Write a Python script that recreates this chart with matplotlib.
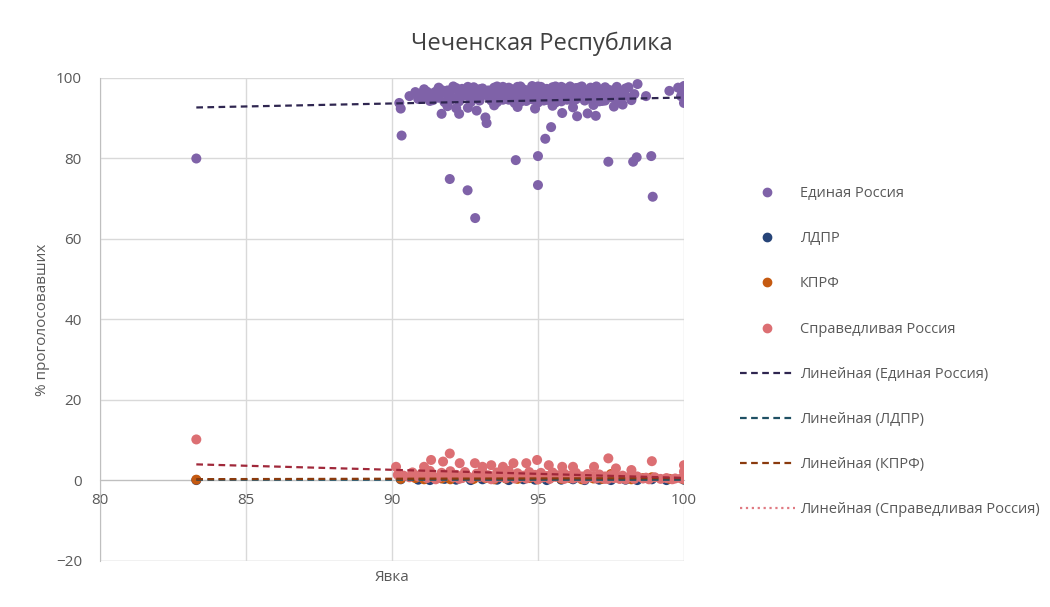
import numpy as np
import matplotlib.pyplot as plt
from matplotlib.lines import Line2D

plt.rcParams['font.family'] = ['Open Sans', 'DejaVu Sans']

title = 'Чеченская Республика'
party_names = ['Единая Россия', 'ЛДПР', 'КПРФ', 'Справедливая Россия']

# Единая Россия: явка / % голосов
er_x = [90.25, 90.3, 90.33, 90.6, 90.8, 90.9, 91.0, 91.0, 91.1, 91.2,
        91.3, 91.3, 91.4, 91.5, 91.5, 91.6, 91.7, 91.7, 91.8, 91.9,
        92.0, 92.0, 92.1, 92.2, 92.3, 92.3, 92.4, 92.5, 92.5, 92.6,
        92.7, 92.8, 92.9, 92.9, 93.0, 93.0, 93.1, 93.2, 93.24, 93.3,
        93.4, 93.4, 93.5, 93.6, 93.6, 93.7, 93.8, 93.8, 93.9, 94.0,
        94.0, 94.1, 94.2, 94.2, 94.3, 94.4, 94.4, 94.5, 94.6, 94.6,
        94.7, 94.8, 94.8, 94.9, 95.0, 95.0, 95.1, 95.2, 95.2, 95.3,
        95.4, 95.4, 95.5, 95.6, 95.6, 95.7, 95.8, 95.8, 95.83, 95.9,
        96.0, 96.0, 96.1, 96.2, 96.2, 96.3, 96.34, 96.4, 96.5, 96.6,
        96.7, 96.7, 96.8, 96.9, 96.98, 97.0, 97.1, 97.2, 97.3, 97.4,
        97.5, 97.6, 97.7, 97.8, 97.9, 98.0, 98.1, 98.2, 98.41, 98.7,
        99.5, 99.8, 99.9, 99.9, 100.0, 100.0, 100.0, 100.0, 100.0, 100.0,
        91.1, 91.4, 91.6, 91.9, 92.1, 92.3, 92.4, 92.6, 92.8, 93.0,
        93.1, 93.3, 93.5, 93.6, 93.7, 93.9, 94.0, 94.1, 94.2, 94.3,
        94.4, 94.5, 94.6, 94.7, 94.8, 94.9, 95.0, 95.1, 95.1, 95.2,
        95.3, 95.4, 95.5, 95.5, 95.6, 95.7, 95.8, 95.9, 96.0, 96.1,
        96.1, 96.2, 96.3, 96.4, 96.5, 96.6, 96.7, 96.8, 96.9, 97.0,
        97.1, 97.2, 97.3, 97.4, 97.5, 97.7, 97.8, 97.9, 98.0, 98.3,
        92.0, 92.7, 93.4, 94.5, 95.0, 95.6, 96.0, 96.6, 97.2, 93.8,
        91.9, 92.6, 93.5, 94.3, 94.9, 95.5, 96.2, 96.9, 97.6, 92.2,
        83.3, 91.98, 92.59, 92.85, 94.24, 95.0, 95.0, 95.25, 95.45, 97.41,
        98.26, 98.38, 98.88, 98.93]
er_y = [93.8, 92.4, 85.7, 95.5, 96.5, 94.8, 96.0, 95.2, 95.3, 96.6,
        95.8, 94.3, 94.5, 96.6, 95.2, 95.1, 91.1, 97.0, 94.0, 95.8,
        94.5, 96.8, 95.0, 97.5, 91.1, 94.2, 96.2, 95.8, 95.6, 97.8,
        94.0, 96.5, 91.9, 95.2, 97.2, 94.4, 95.8, 90.2, 88.8, 96.9,
        94.4, 95.0, 97.6, 95.5, 94.0, 96.4, 94.6, 97.8, 95.6, 95.9,
        94.6, 97.2, 95.0, 93.8, 96.6, 94.1, 97.9, 95.7, 94.3, 96.9,
        94.8, 97.5, 94.7, 96.2, 93.9, 97.9, 95.4, 94.4, 97.0, 94.6,
        96.6, 94.5, 97.7, 95.1, 93.9, 96.3, 97.8, 94.2, 91.3, 95.6,
        97.3, 94.8, 95.0, 96.8, 94.6, 94.7, 90.5, 97.6, 95.8, 94.4,
        96.9, 91.2, 94.8, 97.4, 90.6, 95.5, 94.2, 96.5, 94.4, 97.1,
        95.2, 96.9, 94.0, 96.2, 93.4, 95.6, 97.7, 94.5, 98.5, 95.5,
        96.8, 97.6, 95.5, 97.2, 97.9, 95.0, 93.8, 96.9, 97.4, 98.0,
        97.2, 96.2, 97.6, 96.9, 97.9, 96.4, 97.3, 95.9, 97.7, 96.0,
        97.4, 95.4, 96.3, 97.9, 95.2, 96.8, 97.6, 95.8, 96.9, 97.8,
        96.0, 97.2, 95.3, 96.5, 98.0, 95.6, 96.7, 97.8, 96.1, 95.2,
        97.3, 96.0, 95.0, 96.8, 97.9, 95.4, 96.5, 97.4, 95.9, 97.9,
        96.6, 95.3, 97.5, 96.1, 97.9, 96.8, 95.4, 97.6, 96.0, 97.9,
        96.4, 95.0, 97.7, 95.9, 96.9, 97.8, 95.1, 96.6, 97.4, 96.0,
        95.3, 95.0, 96.9, 94.8, 95.5, 94.3, 94.6, 94.9, 94.3, 95.7,
        93.0, 92.6, 93.2, 92.8, 92.4, 93.1, 92.7, 93.3, 92.9, 92.5,
        80.0, 74.9, 72.1, 65.2, 79.6, 80.6, 73.4, 84.9, 87.8, 79.2,
        79.2, 80.3, 80.6, 70.5]

# ЛДПР
ldpr_x = [83.3, 90.3, 90.9, 91.3, 91.8, 92.2, 92.7, 93.1, 93.6, 94.0,
          94.5, 94.9, 95.3, 95.8, 96.2, 96.6, 97.1, 97.5, 98.0, 98.4,
          98.9, 99.4, 100.0]
ldpr_y = [0.1, 0.3, 0.2, 0.1, 0.4, 0.2, 0.1, 0.3, 0.2, 0.1,
          0.3, 0.2, 0.1, 0.2, 0.3, 0.1, 0.2, 0.1, 0.2, 0.1,
          0.3, 0.1, 0.2]

# КПРФ
kprf_x = [83.3, 90.3, 90.8, 91.1, 91.4, 91.7, 92.0, 92.4, 92.8, 93.2,
          93.5, 93.9, 94.3, 94.7, 95.0, 95.4, 95.8, 96.1, 96.5, 96.9,
          97.2, 97.5, 97.8, 98.2, 98.6, 98.9, 99.5, 100.0, 100.0]
kprf_y = [0.2, 0.4, 0.6, 0.3, 0.8, 0.5, 0.3, 0.7, 0.4, 0.6,
          0.3, 0.5, 0.4, 0.6, 0.3, 0.5, 0.4, 0.6, 0.3, 0.5,
          0.4, 1.6, 0.5, 0.3, 0.6, 0.8, 0.4, 0.3, 0.6]

# Справедливая Россия
sr_x = [83.3, 90.14, 90.2, 91.1, 91.34, 91.75, 91.98, 92.32, 92.84, 93.1,
        93.4, 93.8, 94.16, 94.6, 94.97, 95.37, 95.83, 96.2, 96.92, 97.41,
        97.67, 98.2, 98.9, 99.7, 100.0, 100.0,
        90.4, 90.6, 90.7, 90.9, 91.0, 91.2, 91.3, 91.4, 91.6, 91.7,
        91.8, 92.0, 92.1, 92.2, 92.4, 92.5, 92.6, 92.7, 92.9, 93.0,
        93.1, 93.2, 93.3, 93.5, 93.6, 93.7, 93.8, 93.9, 94.0, 94.1,
        94.2, 94.3, 94.4, 94.5, 94.6, 94.7, 94.8, 94.9, 95.0, 95.1,
        95.2, 95.3, 95.4, 95.5, 95.6, 95.7, 95.8, 95.9, 96.0, 96.1,
        96.2, 96.3, 96.4, 96.5, 96.6, 96.7, 96.8, 96.9, 97.0, 97.1,
        97.2, 97.3, 97.4, 97.5, 97.6, 97.7, 97.8, 97.9, 98.0, 98.1,
        98.3, 98.4, 98.6, 98.7, 98.8, 99.0, 99.2, 99.4, 99.6, 99.9,
        91.5, 92.3, 93.4, 94.2, 95.0, 95.9, 96.6, 97.3, 98.0, 100.0]
sr_y = [10.2, 3.4, 1.4, 3.4, 5.1, 4.7, 6.7, 4.3, 4.3, 3.4,
        3.8, 3.4, 4.3, 4.3, 5.1, 3.8, 3.4, 3.4, 3.4, 5.5,
        3.0, 2.6, 4.8, 0.5, 3.8, 2.2,
        1.2, 0.8, 2.0, 1.0, 1.6, 0.6, 2.4, 1.1, 0.7, 1.9,
        1.0, 2.3, 0.8, 1.4, 0.6, 2.1, 1.0, 0.5, 1.7, 0.9,
        2.2, 0.7, 1.3, 0.5, 2.0, 0.9, 1.5, 0.6, 2.4, 1.0,
        0.7, 1.8, 0.8, 1.2, 0.5, 2.1, 0.9, 1.4, 0.6, 1.9,
        0.8, 1.1, 0.4, 2.0, 0.9, 1.3, 0.6, 1.7, 0.8, 1.2,
        0.5, 1.9, 0.7, 1.0, 0.4, 1.6, 0.8, 1.1, 0.5, 1.5,
        0.7, 1.0, 0.4, 1.3, 0.6, 0.9, 0.4, 1.2, 0.5, 0.8,
        0.4, 1.0, 0.5, 0.7, 0.3, 0.8, 0.4, 0.6, 0.3, 0.5,
        0.3, 0.4, 0.3, 0.5, 0.3, 0.4, 0.3, 0.4, 0.3, 0.4]

colors = ['#7f62a8', '#264478', '#c55a11', '#dc6f73']
trend_colors = ['#2f2650', '#1f5064', '#8a3a0d', '#a0283a']

fig = plt.figure(figsize=(10.5, 6.07), dpi=100)
ax = fig.add_axes([0.0952, 0.0758, 0.5562, 0.7957])

series = [(er_x, er_y), (ldpr_x, ldpr_y), (kprf_x, kprf_y), (sr_x, sr_y)]
for (xs, ys), c in zip(series, colors):
    ax.scatter(xs, ys, s=52, color=c, edgecolors='none', zorder=3)

# линейные тренды
for (xs, ys), c in zip(series, trend_colors):
    k, b = np.polyfit(xs, ys, 1)
    xx = np.array([min(xs), max(xs)])
    ax.plot(xx, k * xx + b, color=c, lw=1.6, dashes=(3, 2), zorder=4)

ax.set_xlim(80, 100)
ax.set_ylim(-20, 100)
ax.set_xticks([80, 85, 90, 95, 100])
ax.set_yticks([-20, 0, 20, 40, 60, 80, 100])
ax.grid(True, color='#d9d9d9', lw=1)
ax.set_axisbelow(True)
for s in ['top', 'right']:
    ax.spines[s].set_visible(False)
ax.spines['bottom'].set_position(('data', 0))
ax.spines['bottom'].set_color('#bfbfbf')
ax.spines['left'].set_color('#bfbfbf')
ax.axhline(-20, color='#d9d9d9', lw=1, zorder=0)
ax.tick_params(length=0, labelsize=11, colors='#595959')
ax.tick_params(axis='y', pad=13)
ax.tick_params(axis='x', pad=9)

ax.set_xlabel('Явка', fontsize=11, color='#595959')
ax.xaxis.set_label_coords(0.5, -0.018)
ax.set_ylabel('% проголосовавших', fontsize=11, color='#595959')
ax.yaxis.set_label_coords(-0.085, 0.5)

fig.suptitle(title, x=0.516, y=0.948, fontsize=17, color='#404040')

handles = [Line2D([], [], ls='none', marker='o', ms=6, color=c) for c in colors]
handles += [Line2D([], [], color=c, lw=1.6, dashes=(3, 2)) for c in trend_colors[:3]]
handles += [Line2D([], [], color='#e07a82', lw=1.6, ls=':')]
labels = party_names + ['Линейная (' + p + ')' for p in party_names]
leg = fig.legend(handles, labels, loc='upper left', bbox_to_anchor=(0.692, 0.715),
                 frameon=False, fontsize=10.5, labelspacing=2.07,
                 handlelength=3.8, handletextpad=0.3, labelcolor='#595959')

fig.savefig('out.png', dpi=100)
